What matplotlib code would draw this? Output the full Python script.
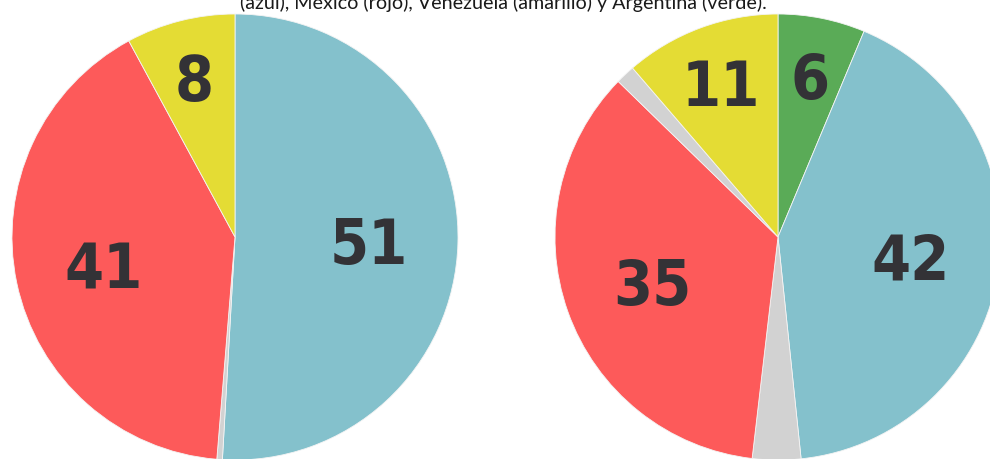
import matplotlib
matplotlib.use('Agg')
import matplotlib.pyplot as plt
import numpy as np

W, H = 990, 459

title = "(azul), México (rojo), Venezuela (amarillo) y Argentina (verde)."

# Left pie (clockwise from top)
left_values = [50.9, 0.4, 40.8, 7.9]
left_series = ['blue', 'grey', 'red', 'yellow']
left_labels = ['51', '', '41', '8']

# Right pie (clockwise from top)
right_values = [6.3, 42.0, 3.5, 35.4, 1.4, 11.3]
right_series = ['green', 'blue', 'grey', 'red', 'grey', 'yellow']
right_labels = ['6', '42', '', '35', '', '11']

palette = {
    'blue': '#84c1cc',
    'red': '#fd5a5a',
    'yellow': '#e4dc34',
    'green': '#5aab57',
    'grey': '#d2d2d2',
}
text_color = '#333236'

fig = plt.figure(figsize=(W / 100, H / 100), dpi=100)
ax = fig.add_axes([0, 0, 1, 1])


def draw_pie(values, series, labels, cx_px, cy_px, r):
    cx, cy = cx_px, H - cy_px
    wedges, _ = ax.pie(values, colors=[palette[s] for s in series],
                       startangle=90, counterclock=False,
                       center=(cx, cy), radius=r,
                       wedgeprops=dict(edgecolor='#f4f4f4', linewidth=0.6))
    for w, lab, v in zip(wedges, labels, values):
        if not lab:
            continue
        th = np.deg2rad((w.theta1 + w.theta2) / 2)
        d = 0.74 if v < 15 else 0.6
        ax.text(cx + d * r * np.cos(th), cy + d * r * np.sin(th), lab,
                ha='center', va='center_baseline', fontsize=45,
                fontweight='bold', fontstretch='condensed', color=text_color,
                family=['DejaVu Sans'])


draw_pie(left_values, left_series, left_labels, 235, 237, 223)
draw_pie(right_values, right_series, right_labels, 778, 237, 223)

ax.text(503, H - 9.5, title, ha='center', va='baseline', fontsize=14.2,
        color='#1a1a1a', family=['Lato', 'DejaVu Sans'])

ax.set_xlim(0, W)
ax.set_ylim(0, H)
ax.set_aspect('equal')
ax.axis('off')

fig.savefig('out.png', dpi=100)
